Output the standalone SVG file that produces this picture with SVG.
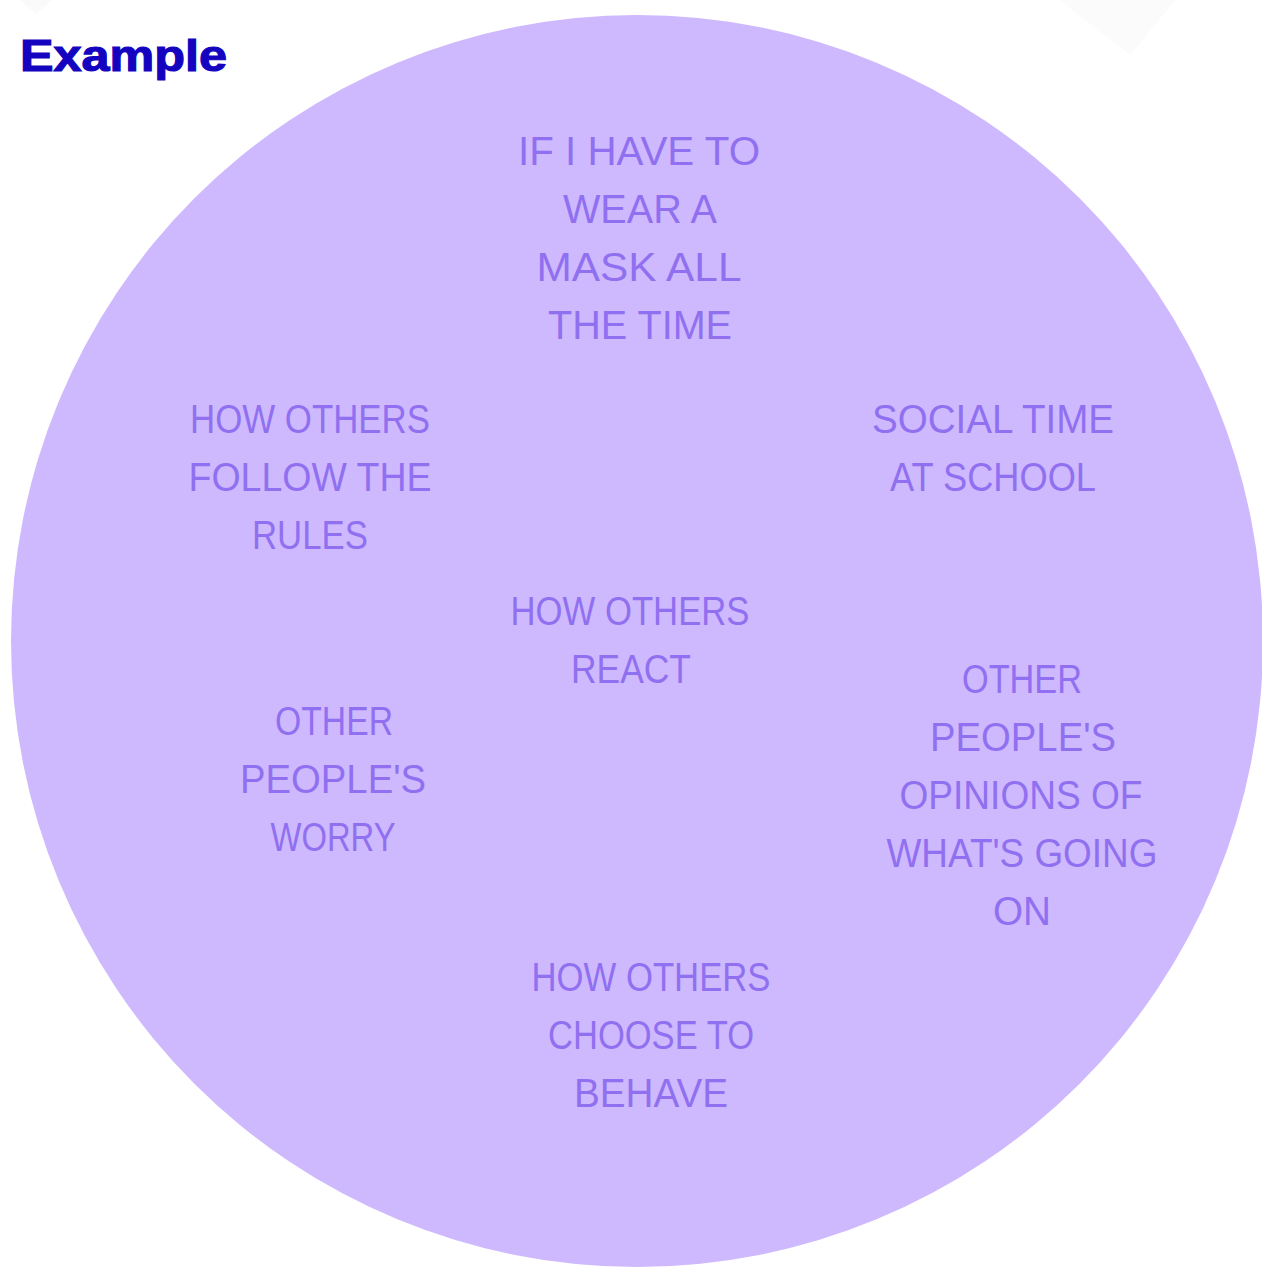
<svg xmlns="http://www.w3.org/2000/svg" width="1262" height="1268" viewBox="0 0 1262 1268">
<style>
.lbl{font-family:"Liberation Sans",Arial,sans-serif;font-size:40px;fill:#9070F0;text-anchor:middle;}
.title{font-family:"Liberation Sans",Arial,sans-serif;font-size:45px;font-weight:bold;fill:#1404C0;stroke:#1404C0;stroke-width:1.2px;}
</style>
<rect width="1262" height="1268" fill="#ffffff"/>
<polygon points="20,0 52,0 36,14" fill="#FAFAFA"/>
<polygon points="1060,0 1175,0 1130,55" fill="#FBFBFB"/>
<circle id="bg" cx="637" cy="641" r="626" fill="#CEB9FE"/>
<text class="title" x="20" y="71" textLength="207" lengthAdjust="spacingAndGlyphs">Example</text>
<g id="node-mask">
<text class="lbl" x="639" y="165" textLength="242" lengthAdjust="spacingAndGlyphs">IF I HAVE TO</text>
<text class="lbl" x="640" y="223" textLength="154" lengthAdjust="spacingAndGlyphs">WEAR A</text>
<text class="lbl" x="639" y="281" textLength="205" lengthAdjust="spacingAndGlyphs">MASK ALL</text>
<text class="lbl" x="640" y="339" textLength="184" lengthAdjust="spacingAndGlyphs">THE TIME</text>
</g>
<g id="node-rules">
<text class="lbl" x="310" y="433" textLength="240" lengthAdjust="spacingAndGlyphs">HOW OTHERS</text>
<text class="lbl" x="310" y="491" textLength="243" lengthAdjust="spacingAndGlyphs">FOLLOW THE</text>
<text class="lbl" x="310" y="549" textLength="116" lengthAdjust="spacingAndGlyphs">RULES</text>
</g>
<g id="node-social">
<text class="lbl" x="993" y="433" textLength="242" lengthAdjust="spacingAndGlyphs">SOCIAL TIME</text>
<text class="lbl" x="993" y="491" textLength="206" lengthAdjust="spacingAndGlyphs">AT SCHOOL</text>
</g>
<g id="node-react">
<text class="lbl" x="630" y="625" textLength="239" lengthAdjust="spacingAndGlyphs">HOW OTHERS</text>
<text class="lbl" x="631" y="683" textLength="120" lengthAdjust="spacingAndGlyphs">REACT</text>
</g>
<g id="node-worry">
<text class="lbl" x="334" y="735" textLength="118" lengthAdjust="spacingAndGlyphs">OTHER</text>
<text class="lbl" x="333" y="793" textLength="186" lengthAdjust="spacingAndGlyphs">PEOPLE'S</text>
<text class="lbl" x="333" y="851" textLength="125" lengthAdjust="spacingAndGlyphs">WORRY</text>
</g>
<g id="node-opinions">
<text class="lbl" x="1022" y="693" textLength="120" lengthAdjust="spacingAndGlyphs">OTHER</text>
<text class="lbl" x="1023" y="751" textLength="186" lengthAdjust="spacingAndGlyphs">PEOPLE'S</text>
<text class="lbl" x="1021" y="809" textLength="243" lengthAdjust="spacingAndGlyphs">OPINIONS OF</text>
<text class="lbl" x="1022" y="867" textLength="271" lengthAdjust="spacingAndGlyphs">WHAT'S GOING</text>
<text class="lbl" x="1022" y="925" textLength="58" lengthAdjust="spacingAndGlyphs">ON</text>
</g>
<g id="node-behave">
<text class="lbl" x="651" y="991" textLength="239" lengthAdjust="spacingAndGlyphs">HOW OTHERS</text>
<text class="lbl" x="651" y="1049" textLength="206" lengthAdjust="spacingAndGlyphs">CHOOSE TO</text>
<text class="lbl" x="651" y="1107" textLength="154" lengthAdjust="spacingAndGlyphs">BEHAVE</text>
</g>
<g id="connectors"></g>
</svg>
